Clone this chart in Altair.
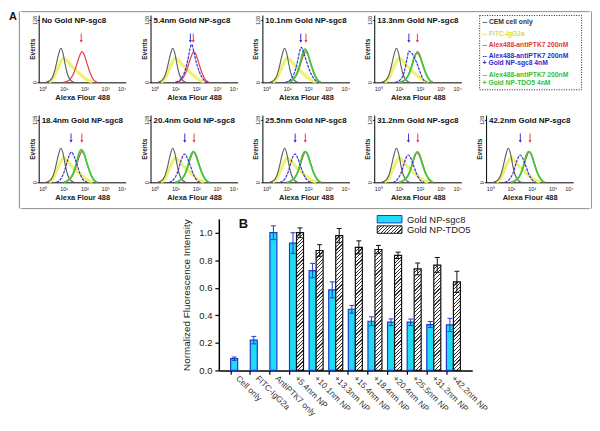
import math
import json
import pandas as pd
import altair as alt

FONT = "Liberation Sans"

# ---------------- Panel A : flow cytometry histograms ----------------
PANEL_TITLES = ["No Gold NP-sgc8", "5.4nm Gold NP-sgc8", "10.1nm Gold NP-sgc8", "13.3nm Gold NP-sgc8",
                "18.4nm Gold NP-sgc8", "20.4nm Gold NP-sgc8", "25.5nm Gold NP-sgc8", "31.2nm Gold NP-sgc8",
                "42.2nm Gold NP-sgc8"]
DECADES = [0, 1, 2, 3, 4]
DECADE_LABELS = ["10⁰", "10¹", "10²", "10³", "10⁴"]
EVENT_TICKS = [0, 128]

CELL_LOGX = [0.15, 0.35, 0.5, 0.62, 0.75, 0.87, 0.97, 1.08, 1.2, 1.35, 1.5]
CELL_EVENTS = [0, 4, 14, 32, 56, 70, 60, 36, 15, 4, 0]
FITC_LOGX = [0.3, 0.5, 0.7, 0.88, 1.0, 1.15, 1.35, 1.6, 1.85, 2.1, 2.4]
FITC_EVENTS = [0, 8, 27, 44, 50, 45, 35, 25, 15, 6, 0]
PTK7_LOGX = [1.0, 1.25, 1.45, 1.6, 1.75, 1.88, 2.0, 2.15, 2.3, 2.45, 2.62]
PTK7_EVENTS = [0, 4, 15, 32, 52, 63, 56, 36, 17, 5, 0]

SGC8_LOGX = [
    None,
    [1.0, 1.25, 1.45, 1.6, 1.7, 1.78, 1.88, 2.0, 2.15, 2.35, 2.55],
    [0.9, 1.15, 1.35, 1.5, 1.6, 1.68, 1.78, 1.92, 2.08, 2.3, 2.5],
    [0.8, 1.05, 1.25, 1.38, 1.47, 1.56, 1.7, 1.85, 2.0, 2.15, 2.35],
    [0.65, 0.85, 1.05, 1.2, 1.3, 1.38, 1.5, 1.65, 1.8, 1.95, 2.15],
    [0.7, 0.9, 1.1, 1.25, 1.36, 1.45, 1.57, 1.72, 1.87, 2.02, 2.2],
    [0.65, 0.85, 1.05, 1.2, 1.3, 1.38, 1.5, 1.65, 1.8, 1.97, 2.15],
    [0.7, 0.9, 1.1, 1.25, 1.35, 1.44, 1.56, 1.7, 1.85, 2.0, 2.2],
    [0.7, 0.9, 1.1, 1.25, 1.36, 1.45, 1.57, 1.72, 1.87, 2.02, 2.2],
]
SGC8_EVENTS = [
    None,
    [0, 6, 22, 46, 68, 78, 64, 42, 22, 6, 0],
    [0, 5, 20, 44, 64, 72, 62, 44, 24, 7, 0],
    [0, 5, 22, 48, 64, 62, 54, 40, 22, 7, 0],
    [0, 6, 24, 46, 58, 62, 54, 36, 17, 5, 0],
    [0, 5, 20, 42, 54, 58, 50, 34, 16, 5, 0],
    [0, 5, 22, 44, 55, 58, 50, 32, 15, 4, 0],
    [0, 5, 20, 40, 52, 56, 50, 34, 17, 5, 0],
    [0, 5, 19, 40, 52, 56, 49, 33, 16, 5, 0],
]
TDO5_LOGX = [1.0, 1.25, 1.45, 1.6, 1.73, 1.86, 1.98, 2.12, 2.28, 2.45, 2.62]
TDO5_EVENTS = [
    None,
    None,
    [0, 5, 17, 36, 58, 68, 60, 40, 20, 6, 0],
    [0, 4, 15, 32, 52, 60, 55, 38, 19, 6, 0],
    [0, 5, 17, 36, 58, 67, 60, 40, 20, 6, 0],
    [0, 5, 16, 34, 54, 63, 56, 38, 19, 6, 0],
    [0, 5, 16, 34, 55, 63, 57, 38, 19, 6, 0],
    [0, 5, 16, 33, 53, 61, 55, 37, 18, 6, 0],
    [0, 5, 16, 34, 55, 63, 57, 38, 19, 6, 0],
]
SGC8_ARROW = [None, 1.72, 1.65, 1.47, 1.36, 1.45, 1.38, 1.45, 1.45]
PTK7_ARROW = [1.85, 1.86, 1.9, 1.88, 1.88, 1.9, 1.87, 1.9, 1.92]

LEGEND_A_TEXT = ["-- CEM cell only", "-- FITC-IgG2a", "-- Alex488-antiPTK7 200nM",
                 "-- Alex488-antiPTK7 200nM", "+ Gold NP-sgc8 4nM",
                 "-- Alex488-antiPTK7 200nM", "+ Gold NP-TDO5 4nM"]
LEGEND_A_KIND = ["cell", "fitc", "ptk7", "sgc8", "sgc8", "tdo5", "tdo5"]
LEGEND_A_ROW = [0, 1.1, 2.08, 3.03, 3.72, 4.73, 5.48]

# ---------------- Panel B : bar chart ----------------
CATEGORIES = ["Cell only", "FITC-IgG2a", "AntiPTK7 only", "+5.4nm NP", "+10.1nm NP", "+13.3nm NP",
              "+15.4nm NP", "+18.4nm NP", "+20.4nm NP", "+25.5nm NP", "+31.2nm NP", "+42.2nm NP"]
SERIES = ["Gold NP-sgc8", "Gold NP-TDO5"]
SGC8_VALUE = [0.085, 0.22, 1.0, 0.925, 0.725, 0.585, 0.444, 0.357, 0.35, 0.35, 0.333, 0.33]
SGC8_ERR = [0.012, 0.027, 0.05, 0.075, 0.052, 0.058, 0.028, 0.032, 0.024, 0.023, 0.022, 0.048]
TDO5_CATEGORIES = CATEGORIES[3:]
TDO5_VALUE = [1.0, 0.871, 0.979, 0.894, 0.878, 0.836, 0.737, 0.765, 0.643]
TDO5_ERR = [0.035, 0.042, 0.052, 0.047, 0.03, 0.023, 0.043, 0.055, 0.077]
Y_TICKS = [0.0, 0.2, 0.4, 0.6, 0.8, 1.0]

# ---------------- styles ----------------
C_CELL, C_FITC, C_PTK7, C_SGC8, C_TDO5 = "#5a5a5a", "#eded5a", "#e6404a", "#3434d6", "#3ccd3c"
TEXT_COLORS = {"cell": "#333333", "fitc": "#e0dc40", "ptk7": "#e03a3a", "sgc8": "#2b2bd0", "tdo5": "#35c035"}
CYAN, BLUE_EDGE, INK, HATCH_INK = "#1fdcf5", "#1f3cc8", "#111111", "#333333"
EDGE_GRAY = "#9a9a9a"
THIN = 0.01
INDEP = dict(fill="independent", stroke="independent", color="independent")

HW, HH = 88, 68
label_expr = json.dumps(DECADE_LABELS, ensure_ascii=False) + "[datum.value]"
X_H = alt.X("logx:Q", scale=alt.Scale(domain=[-0.2, 4], nice=False, zero=False),
            axis=alt.Axis(values=DECADES, labelExpr=label_expr, title="Alexa Flour 488", ticks=False,
                          grid=False, labelFontSize=5.5, labelPadding=4, titleFontSize=7.5,
                          titleFontWeight="bold", titlePadding=2, domainWidth=1))
Y_H = alt.Y("events:Q", scale=alt.Scale(domain=[0, 138], nice=False),
            axis=alt.Axis(values=EVENT_TICKS, title="Events", labelAngle=-90, labelAlign="center",
                          labelBaseline="bottom", tickSize=1.5, labelFontSize=5.5, labelPadding=0,
                          titleFontSize=6.5, titleFontWeight="bold", titlePadding=-3, grid=False,
                          domainWidth=1))


def curve(xs, ys, color, width, dash=None, opacity=1.0):
    df = pd.DataFrame({"logx": xs, "events": ys})
    kw = dict(color=color, strokeWidth=width, interpolate="monotone", opacity=opacity)
    if dash:
        kw["strokeDash"] = dash
    return alt.Chart(df).mark_line(**kw).encode(x=X_H, y=Y_H)


def hist_panel(i):
    layers = [curve(FITC_LOGX, FITC_EVENTS, C_FITC, 3.2, opacity=0.85),
              curve(CELL_LOGX, CELL_EVENTS, C_CELL, 1.1),
              curve(PTK7_LOGX, PTK7_EVENTS, C_PTK7, 1.2)]
    if TDO5_EVENTS[i] is not None:
        layers.append(curve(TDO5_LOGX, TDO5_EVENTS[i], C_TDO5, 1.8))
    if SGC8_EVENTS[i] is not None:
        layers.append(curve(SGC8_LOGX[i], SGC8_EVENTS[i], C_SGC8, 1.2, dash=[3, 1]))
    ax, col = [PTK7_ARROW[i]], [C_PTK7]
    if SGC8_ARROW[i] is not None:
        ax.append(SGC8_ARROW[i])
        col.append(C_SGC8)
    arr = pd.DataFrame({"logx": ax, "col": col, "events": [100] * len(ax), "tip": [84] * len(ax)})
    layers.append(alt.Chart(arr).mark_rule(strokeWidth=1).encode(
        x=X_H, y=Y_H, y2="tip:Q", color=alt.Color("col:N", scale=None)))
    layers.append(alt.Chart(arr).mark_point(shape="triangle-down", filled=True, size=10, opacity=1).encode(
        x=X_H, y=alt.Y("tip:Q"), color=alt.Color("col:N", scale=None)))
    return alt.layer(*layers).properties(
        width=HW, height=HH,
        title=alt.Title(PANEL_TITLES[i], anchor="start", frame="group", fontSize=8, fontWeight="bold",
                        offset=-10, dx=3, color="#111"))


def blank(w, h, stroke=None, title=None):
    c = alt.Chart(pd.DataFrame({"v": [0]})).mark_point(size=0, opacity=0)
    props = dict(width=w, height=h)
    if stroke:
        props["view"] = alt.ViewBackground(stroke=stroke, strokeWidth=1)
    if title is not None:
        props["title"] = title
    return c.properties(**props)


legA_df = pd.DataFrame({"text": LEGEND_A_TEXT, "row": LEGEND_A_ROW,
                        "color": [TEXT_COLORS[k] for k in LEGEND_A_KIND]})
legendA = alt.Chart(legA_df).mark_text(align="left", baseline="middle", fontSize=6.8,
                                        fontWeight="bold").encode(
    x=alt.value(3.5),
    y=alt.Y("row:Q", scale=alt.Scale(domain=[-0.65, 6.05], reverse=True, nice=False, zero=False), axis=None),
    text="text:N", color=alt.Color("color:N", scale=None)
).properties(width=103, height=75,
             view=alt.ViewBackground(stroke="#222222", strokeDash=[1, 1.5], strokeWidth=1))

P = [hist_panel(i) for i in range(9)]
PANEL_GAP = 15
row1 = alt.hconcat(blank(THIN, HH), alt.hconcat(alt.hconcat(*P[0:4], spacing=PANEL_GAP), legendA, spacing=17),
                   spacing=7)
row2 = alt.hconcat(blank(THIN, HH), alt.hconcat(*P[4:9], spacing=PANEL_GAP), spacing=7)

BOX_W, BOX_H = 574, 199
inner = alt.vconcat(alt.vconcat(blank(BOX_W, THIN, EDGE_GRAY), alt.vconcat(row1, row2, spacing=14), spacing=2),
                    blank(BOX_W, THIN, EDGE_GRAY), spacing=6)
A_section = alt.hconcat(
    blank(THIN, BOX_H, EDGE_GRAY, alt.Title("A", anchor="start", frame="group", fontSize=11, fontWeight="bold",
                                            offset=-11, dx=-10, color="#111")),
    inner, blank(THIN, BOX_H, EDGE_GRAY), spacing=0)

# ---------------- bar chart ----------------
BW, BH = 256, 153
Y_MAX = 1.1
PAD_OUT = 0.46
step = BW / (len(CATEGORIES) + 2 * PAD_OUT)
sub = step / 2.8
px_per = BH / Y_MAX

rows = []
for c, v, e in zip(CATEGORIES, SGC8_VALUE, SGC8_ERR):
    rows.append({"cat": c, "series": SERIES[0], "value": v, "lo": v - e, "hi": v + e})
for c, v, e in zip(TDO5_CATEGORIES, TDO5_VALUE, TDO5_ERR):
    rows.append({"cat": c, "series": SERIES[1], "value": v, "lo": v - e, "hi": v + e})
bars_df = pd.DataFrame(rows)


def hatch_gradient(w, h, period=2.6, dark=0.32):
    r = h / w
    s = (1 + r) / (1 + r * r)
    n = (w + h) / math.sqrt(2) / period
    stops = []
    k = 0
    while k < n:
        a = min(k / n, 1)
        b = min((k + dark) / n, 1)
        c = min((k + 1) / n, 1)
        stops += [{"offset": round(a, 5), "color": HATCH_INK}, {"offset": round(b, 5), "color": HATCH_INK},
                  {"offset": round(b, 5), "color": "#ffffff"}, {"offset": round(c, 5), "color": "#ffffff"}]
        k += 1
    return {"gradient": "linear", "x1": 0, "y1": 0, "x2": s, "y2": s * r, "stops": stops}


conds = [{"test": f"datum.cat === '{c}' && datum.series === '{SERIES[1]}'",
          "value": hatch_gradient(sub, v * px_per)} for c, v in zip(TDO5_CATEGORIES, TDO5_VALUE)]

FILL_SCALE = alt.Scale(domain=SERIES, range=[CYAN, "#ffffff"])
STROKE_SCALE = alt.Scale(domain=SERIES, range=[BLUE_EDGE, INK])
XB = alt.X("cat:N", scale=alt.Scale(domain=CATEGORIES, paddingOuter=PAD_OUT, paddingInner=0),
           axis=alt.Axis(title=None, labelAngle=45, labelAlign="left", labelBaseline="middle",
                         bandPosition=0.15, tickSize=4, tickWidth=1.2, domainWidth=1.5, labelFontSize=8.5,
                         labelPadding=2, labelColor="#333333", labelOverlap=False, labelBound=False))
XO = alt.XOffset("series:N", scale=alt.Scale(domain=SERIES, paddingOuter=0.4, paddingInner=0))
Y_AXIS_B = alt.Axis(values=Y_TICKS, format=".1f", title="Normalized Fluorescence Intensity", tickSize=4,
                    tickWidth=1.2, domainWidth=1.5, labelFontSize=9.5, labelPadding=3, titleFontSize=10,
                    titleFontWeight="normal", titlePadding=7, grid=False)


def yb(field):
    return alt.Y(field, scale=alt.Scale(domain=[0, Y_MAX], nice=False), axis=Y_AXIS_B)


bars = alt.Chart(bars_df).mark_bar(strokeWidth=1.2).encode(
    x=XB, xOffset=XO, y=yb("value:Q"),
    fill=alt.Fill("series:N", scale=FILL_SCALE, legend=None, condition=conds),
    stroke=alt.Stroke("series:N", scale=STROKE_SCALE, legend=None))
err = alt.Chart(bars_df).mark_rule(strokeWidth=1).encode(
    x=XB, xOffset=XO, y=yb("lo:Q"), y2="hi:Q",
    stroke=alt.Stroke("series:N", scale=STROKE_SCALE, legend=None))
cap_hi = alt.Chart(bars_df).mark_tick(thickness=1, size=5, opacity=1).encode(
    x=XB, xOffset=XO, y=yb("hi:Q"),
    color=alt.Color("series:N", scale=alt.Scale(domain=SERIES, range=[BLUE_EDGE, INK]), legend=None))
cap_lo = alt.Chart(bars_df).mark_tick(thickness=1, size=5, opacity=1).encode(
    x=XB, xOffset=XO, y=yb("lo:Q"),
    color=alt.Color("series:N", scale=alt.Scale(domain=SERIES, range=[BLUE_EDGE, INK]), legend=None))

# key (legend) for panel B: swatch + label for each series
key_df = pd.DataFrame({"label": SERIES})
KEY_X, KEY_W, KEY_H, KEY_ROW = 160, 25, 7.5, 10.5
key_layers = []
for j, (fill, edge) in enumerate([(CYAN, BLUE_EDGE), (hatch_gradient(KEY_W, KEY_H, period=2.4), INK)]):
    top = -3.5 + j * KEY_ROW
    sel = key_df.loc[[j]]
    key_layers.append(alt.Chart(sel).mark_rect(fill=fill, stroke=edge, strokeWidth=1).encode(
        x=alt.value(KEY_X), x2=alt.value(KEY_X + KEY_W), y=alt.value(top), y2=alt.value(top + KEY_H)))
    key_layers.append(alt.Chart(sel).mark_text(align="left", baseline="middle", fontSize=9.5,
                                               color="#222222").encode(
        x=alt.value(KEY_X + KEY_W + 5), y=alt.value(top + KEY_H / 2 + 0.5), text="label:N"))

bar_chart = alt.layer(bars, err, cap_hi, cap_lo, *key_layers).properties(
    width=BW, height=BH,
    title=alt.Title("B", anchor="start", frame="group", fontSize=13, fontWeight="bold", offset=-16, dx=20,
                    color="#111"))

B_section = alt.hconcat(blank(164, 10), bar_chart, spacing=0).resolve_scale(**INDEP)

chart = alt.vconcat(A_section, B_section, spacing=5).resolve_scale(**INDEP).properties(padding=0).configure(
    font=FONT).configure_view(stroke=None).configure_axis(
    labelFont=FONT, titleFont=FONT, domainColor="#000000", tickColor="#000000", labelColor="#222222",
    titleColor="#222222").configure_title(font=FONT)

chart.save("out.html", embed_options={"renderer": "svg", "actions": False})
